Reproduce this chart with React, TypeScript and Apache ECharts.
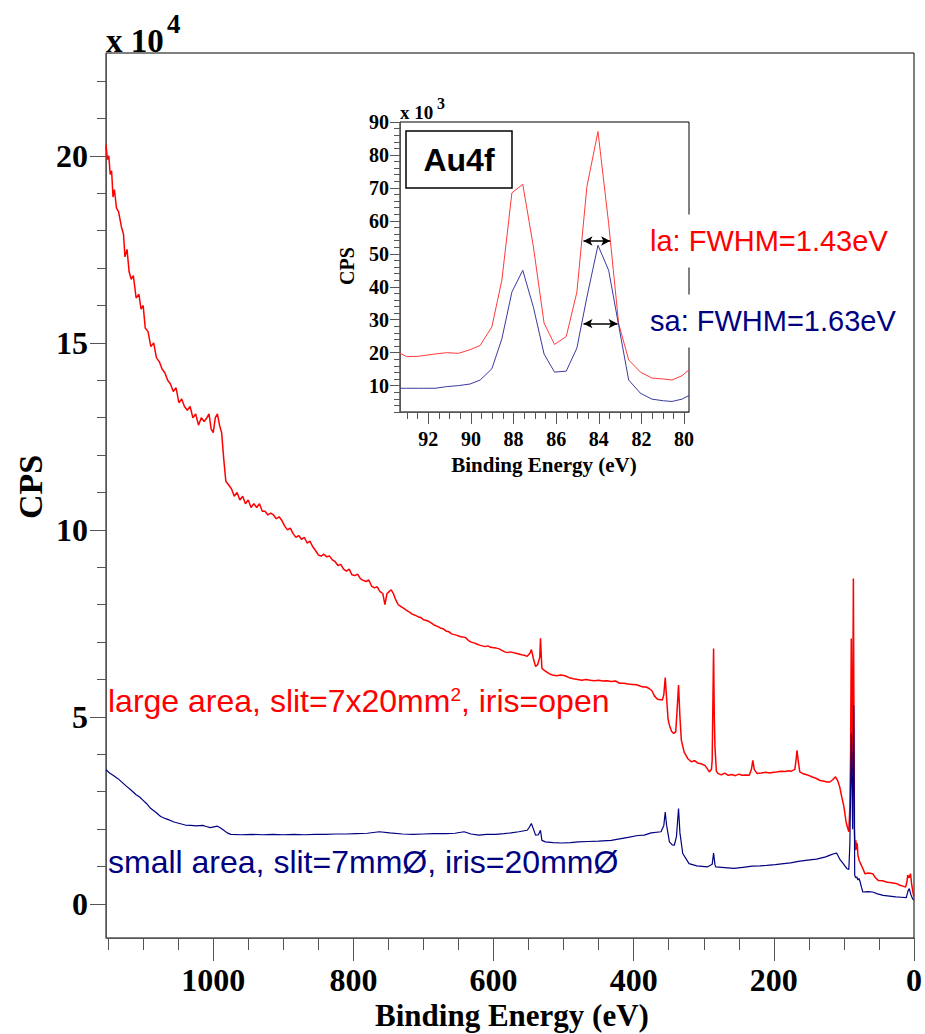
import React, { useEffect, useRef } from "react";
import * as echarts from "echarts";

// ---------- Survey spectra (binding energy eV, CPS in units of 1e4) ----------
const largeAreaSurvey: [number, number][] = [
  [1153, 20.3], [1151, 19.9], [1149, 20.0], [1147, 19.5], [1145, 19.6], [1143, 18.9], [1141, 19.1], [1138, 18.6],
  [1135, 18.5], [1131, 18.1], [1128, 17.9], [1126, 17.3], [1123, 17.5], [1120, 16.9], [1117, 16.7], [1114, 16.8],
  [1110, 16.2], [1106, 16.3], [1103, 15.9], [1100, 16.0], [1097, 15.4], [1093, 15.3], [1089, 14.9], [1085, 15.0],
  [1081, 14.6], [1077, 14.5], [1073, 14.3], [1069, 14.2], [1065, 14.0], [1061, 13.9], [1057, 13.7], [1053, 13.8],
  [1049, 13.4], [1045, 13.5], [1041, 13.3], [1037, 13.2], [1033, 13.3], [1029, 13.0], [1025, 13.1], [1021, 12.8],
  [1017, 13.0], [1013, 12.9], [1009, 13.0], [1006, 13.1], [1003, 12.7], [1000, 12.6], [997, 13.0], [994, 13.1],
  [991, 12.8], [988, 12.6], [985, 11.9], [982, 11.3], [978, 11.2], [974, 11.1], [970, 10.9], [966, 11.0],
  [962, 10.8], [958, 10.9], [954, 10.7], [950, 10.8], [946, 10.6], [942, 10.7], [938, 10.6], [934, 10.7],
  [930, 10.5], [926, 10.5], [922, 10.4], [918, 10.45], [914, 10.4], [910, 10.3], [906, 10.35], [902, 10.25],
  [898, 10.1], [894, 10.0], [890, 10.05], [886, 9.9], [882, 9.8], [878, 9.85], [874, 9.75], [870, 9.8],
  [866, 9.65], [862, 9.7], [858, 9.55], [854, 9.45], [850, 9.33], [846, 9.3], [842, 9.35], [838, 9.28],
  [834, 9.3], [830, 9.2], [826, 9.15], [822, 9.05], [818, 9.08], [814, 8.95], [810, 8.9], [806, 8.95],
  [802, 8.8], [798, 8.78], [794, 8.82], [790, 8.7], [786, 8.65], [782, 8.62], [778, 8.66], [774, 8.5],
  [770, 8.45], [766, 8.48], [762, 8.35], [758, 8.3], [755, 8.0], [752, 8.3], [749, 8.35], [746, 8.4],
  [743, 8.3], [740, 8.15], [736, 8.0], [732, 7.95], [728, 7.9], [724, 7.85], [720, 7.8], [716, 7.75],
  [712, 7.72], [708, 7.68], [704, 7.66], [700, 7.6], [696, 7.58], [692, 7.55], [688, 7.5], [684, 7.45],
  [680, 7.42], [676, 7.38], [672, 7.36], [668, 7.3], [664, 7.28], [660, 7.22], [656, 7.2], [652, 7.18],
  [648, 7.15], [644, 7.14], [640, 7.12], [636, 7.05], [632, 7.0], [628, 6.98], [624, 6.95], [620, 6.92],
  [616, 6.9], [612, 6.88], [608, 6.9], [604, 6.86], [600, 6.85], [596, 6.84], [592, 6.82], [588, 6.78],
  [584, 6.74], [580, 6.72], [576, 6.74], [572, 6.72], [568, 6.7], [564, 6.68], [560, 6.66], [556, 6.65],
  [552, 6.62], [548, 6.7], [546, 6.8], [543, 6.55], [540, 6.35], [537, 6.4], [534, 6.6], [533, 7.1],
  [531, 6.3], [528, 6.25], [524, 6.2], [520, 6.15], [516, 6.12], [510, 6.1], [504, 6.12], [498, 6.1],
  [492, 6.05], [486, 6.02], [480, 6.0], [474, 5.98], [468, 6.0], [462, 5.98], [456, 5.97], [450, 5.98],
  [444, 5.96], [438, 5.97], [432, 5.95], [426, 5.96], [420, 5.9], [414, 5.9], [408, 5.88], [402, 5.87],
  [396, 5.86], [390, 5.82], [386, 5.8], [382, 5.8], [378, 5.76], [374, 5.7], [370, 5.55], [366, 5.47],
  [362, 5.46], [359, 5.45], [357, 5.6], [355, 6.05], [353, 5.5], [351, 4.95], [349, 4.78], [346, 4.62],
  [343, 4.56], [340, 4.6], [338, 5.2], [336, 5.85], [334, 5.0], [332, 4.38], [328, 4.06], [323, 3.89],
  [318, 3.8], [313, 3.83], [309, 3.77], [304, 3.75], [298, 3.7], [292, 3.53], [289, 3.6], [288, 3.84],
  [286, 6.83], [285, 5.0], [284, 4.2], [282, 3.55], [280, 3.49], [275, 3.45], [270, 3.5], [265, 3.44],
  [260, 3.46], [255, 3.43], [250, 3.47], [245, 3.44], [240, 3.45], [235, 3.44], [232, 3.6], [230, 3.84],
  [228, 3.6], [224, 3.49], [218, 3.5], [212, 3.52], [206, 3.5], [200, 3.52], [196, 3.53], [190, 3.55],
  [184, 3.54], [179, 3.56], [175, 3.55], [170, 3.6], [168, 3.9], [167, 4.11], [165, 3.8], [163, 3.53],
  [158, 3.48], [152, 3.45], [146, 3.4], [140, 3.36], [134, 3.3], [128, 3.28], [124, 3.26], [120, 3.26],
  [116, 3.32], [112, 3.4], [109, 3.3], [106, 3.13], [103, 2.85], [100, 2.6], [97, 2.2], [95, 2.05],
  [93, 1.93], [91.5, 2.6], [90.5, 4.0], [89.5, 7.1], [88.8, 4.2], [88, 3.5], [87.2, 6.0], [86.5, 8.7],
  [85.8, 5.5], [85, 2.0], [84, 1.44], [83, 1.7], [82, 1.45], [81, 1.62], [80, 1.3], [78, 1.15],
  [75, 1.03], [72, 0.9], [70, 0.81], [65, 0.83], [59, 0.81], [55, 0.7], [51, 0.63], [45, 0.62],
  [38, 0.58], [32, 0.57], [25.5, 0.55], [20, 0.5], [15, 0.47], [12, 0.45], [10, 0.6], [9, 0.77],
  [7, 0.7], [5, 0.81], [3.5, 0.55], [2, 0.37], [0.2, 0.2],
];

const smallAreaSurvey: [number, number][] = [
  [1153, 3.59], [1148, 3.5], [1143, 3.44], [1136, 3.35], [1130, 3.25], [1124, 3.15], [1117, 3.04], [1110, 2.92],
  [1105, 2.86], [1100, 2.77], [1095, 2.68], [1089, 2.55], [1082, 2.45], [1075, 2.34], [1068, 2.28], [1062, 2.24],
  [1056, 2.19], [1048, 2.15], [1040, 2.11], [1032, 2.1], [1024, 2.09], [1015, 2.1], [1010, 2.07], [1004, 2.04],
  [999, 2.06], [994, 2.08], [990, 2.04], [985, 1.97], [980, 1.9], [975, 1.86], [960, 1.85], [945, 1.86],
  [930, 1.85], [915, 1.86], [900, 1.85], [885, 1.86], [870, 1.85], [855, 1.86], [840, 1.86], [825, 1.87],
  [810, 1.87], [796, 1.88], [780, 1.89], [763, 1.93], [748, 1.9], [730, 1.87], [715, 1.86], [700, 1.87],
  [685, 1.88], [668, 1.88], [655, 1.89], [642, 1.93], [632, 1.87], [621, 1.84], [610, 1.86], [597, 1.86],
  [585, 1.88], [575, 1.9], [564, 1.93], [552, 1.97], [549, 2.05], [546, 2.15], [543, 2.0], [540, 1.84],
  [536, 1.85], [533, 1.97], [531, 1.7], [526, 1.66], [515, 1.64], [503, 1.63], [490, 1.64], [479, 1.66],
  [465, 1.67], [450, 1.68], [432, 1.7], [420, 1.74], [408, 1.78], [394, 1.83], [385, 1.84], [375, 1.9],
  [361, 1.93], [357, 2.1], [355, 2.46], [353, 2.1], [349, 1.66], [345, 1.58], [342, 1.57], [339, 1.8],
  [336, 2.55], [334, 1.9], [330, 1.35], [325, 1.2], [321, 1.08], [310, 1.02], [295, 0.99], [288, 1.06],
  [286, 1.36], [284, 1.05], [283, 0.99], [270, 0.97], [257, 0.95], [244, 0.98], [231, 1.01], [220, 1.02],
  [210, 1.03], [198, 1.05], [186, 1.08], [176, 1.1], [165, 1.14], [152, 1.17], [139, 1.2], [126, 1.26],
  [118, 1.32], [113, 1.35], [110.5, 1.36], [106, 1.2], [101, 1.08], [96, 0.95], [93, 0.92], [91.5, 1.6],
  [90.5, 3.0], [89.3, 4.56], [88.5, 3.2], [87.5, 2.0], [86.8, 3.6], [86, 5.31], [85.3, 3.0], [84.6, 0.77],
  [83, 0.7], [81.5, 0.72], [80, 0.64], [78.5, 0.68], [77, 0.6], [75, 0.45], [73, 0.32], [66, 0.33],
  [59, 0.32], [52, 0.27], [44, 0.23], [35, 0.21], [26, 0.19], [18, 0.18], [11, 0.17], [8.5, 0.35],
  [6.7, 0.41], [4.5, 0.25], [2, 0.14], [0.4, 0.1],
];

// ---------- Au4f inset (binding energy eV, CPS in units of 1e3) ----------
const insetEnergy = [93.33, 93.02, 92.47, 91.69, 91.14, 90.59, 90.04, 89.57, 89.02, 88.55, 88.08, 87.57, 87.07, 86.57,
  86.08, 85.53, 85.03, 84.56, 84.04, 83.54, 83.07, 82.6, 82.05, 81.51, 80.96, 80.57, 80.1, 79.77];
const insetLarge = [19.84, 18.8, 18.9, 19.6, 20.0, 19.8, 20.9, 22.2, 27.8, 42.0, 68.5, 71.1, 52.1, 29.0,
  22.5, 24.9, 38.4, 70.4, 87.1, 59.2, 28.8, 17.8, 14.1, 12.3, 12.0, 11.7, 13.0, 14.8];
const insetSmall = [9.2, 9.2, 9.2, 9.2, 9.7, 10.0, 10.5, 11.7, 15.1, 24.2, 38.4, 45.0, 33.8, 19.6,
  14.1, 14.4, 21.4, 36.9, 52.6, 45.0, 28.3, 11.7, 7.7, 5.9, 5.4, 5.2, 5.9, 7.0];
// FWHM arrows: [from eV, to eV, height]
const fwhmLarge = [84.72, 83.47, 53.9];
const fwhmSmall = [84.72, 83.12, 28.8];

// ---------- Tick values ----------
const mainXMajor = [0, 200, 400, 600, 800, 1000];
const mainXMinor = [0, 50, 100, 150, 200, 250, 300, 350, 400, 450, 500, 550, 600, 650, 700, 750, 800, 850, 900, 950, 1000, 1050, 1100, 1150];
const mainYMajor = [0, 5, 10, 15, 20];
const mainYMinor = [0, 1, 2, 3, 4, 5, 6, 7, 8, 9, 10, 11, 12, 13, 14, 15, 16, 17, 18, 19, 20, 21, 22];
const insetXMajor = [80, 82, 84, 86, 88, 90, 92];
const insetXMinor = [80, 80.5, 81, 81.5, 82, 82.5, 83, 83.5, 84, 84.5, 85, 85.5, 86, 86.5, 87, 87.5, 88, 88.5, 89, 89.5, 90, 90.5, 91, 91.5, 92, 92.5, 93];
const insetYMajor = [10, 20, 30, 40, 50, 60, 70, 80, 90];
const insetYMinor = [2, 4, 6, 8, 10, 12, 14, 16, 18, 20, 22, 24, 26, 28, 30, 32, 34, 36, 38, 40, 42, 44, 46, 48, 50, 52, 54, 56, 58, 60, 62, 64, 66, 68, 70, 72, 74, 76, 78, 80, 82, 84, 86, 88, 90];

const SERIF = "'Liberation Serif', 'Times New Roman', serif";
const SANS = "'Liberation Sans', Arial, sans-serif";
const AXIS_GRAY = "#555";
const RED = "#ff0000";
const NAVY = "#000080";

function App() {
  const ref = useRef<HTMLDivElement>(null);

  useEffect(() => {
    document.body.style.margin = "0";
    const chart = echarts.init(ref.current!, null, { renderer: "svg" });

    const axisLine = { show: true, onZero: false, lineStyle: { color: AXIS_GRAY, width: 1 } };
    const hiddenLine = { show: false, onZero: false };
    const noSplit = { show: false };
    const plain = (v: number) => String(v);

    const option: any = {
      animation: false,
      backgroundColor: "#fff",
      grid: [
        { left: 106, top: 53, width: 812, height: 885, show: true, borderColor: "#000", borderWidth: 1, backgroundColor: "transparent" },
        { left: 400, top: 122, width: 289, height: 290, show: true, borderColor: "#000", borderWidth: 1, backgroundColor: "#fff" },
      ],
      xAxis: [
        {
          gridIndex: 0, type: "value", min: 0, max: 1153, inverse: true, position: "bottom",
          axisLine, splitLine: noSplit,
          axisTick: { show: true, inside: false, length: 12, customValues: mainXMinor, lineStyle: { color: AXIS_GRAY } },
          axisLabel: { show: false },
        },
        {
          gridIndex: 0, type: "value", min: 0, max: 1153, inverse: true, position: "bottom",
          axisLine: hiddenLine, splitLine: noSplit,
          axisTick: { show: true, length: 23, customValues: mainXMajor, lineStyle: { color: AXIS_GRAY } },
          axisLabel: {
            show: true, customValues: mainXMajor, margin: 26, color: "#000", formatter: plain,
            fontFamily: SERIF, fontWeight: "bold", fontSize: 32,
          },
        },
        {
          gridIndex: 1, type: "value", min: 79.77, max: 93.33, inverse: true, position: "bottom",
          axisLine, splitLine: noSplit,
          axisTick: { show: true, length: 7, customValues: insetXMinor, lineStyle: { color: AXIS_GRAY } },
          axisLabel: { show: false },
        },
        {
          gridIndex: 1, type: "value", min: 79.77, max: 93.33, inverse: true, position: "bottom",
          axisLine: hiddenLine, splitLine: noSplit,
          axisTick: { show: true, length: 12, customValues: insetXMajor, lineStyle: { color: AXIS_GRAY } },
          axisLabel: {
            show: true, customValues: insetXMajor, margin: 17, color: "#000", formatter: plain,
            fontFamily: SERIF, fontWeight: "bold", fontSize: 20,
          },
        },
      ],
      yAxis: [
        {
          gridIndex: 0, type: "value", min: -0.91, max: 22.75, position: "left",
          axisLine, splitLine: noSplit,
          axisTick: { show: true, length: 9, customValues: mainYMinor, lineStyle: { color: AXIS_GRAY } },
          axisLabel: { show: false },
        },
        {
          gridIndex: 0, type: "value", min: -0.91, max: 22.75, position: "left",
          axisLine: hiddenLine, splitLine: noSplit,
          axisTick: { show: true, length: 16, customValues: mainYMajor, lineStyle: { color: AXIS_GRAY } },
          axisLabel: {
            show: true, customValues: mainYMajor, margin: 18, color: "#000", formatter: plain,
            fontFamily: SERIF, fontWeight: "bold", fontSize: 32,
          },
        },
        {
          gridIndex: 1, type: "value", min: 2, max: 90, position: "left",
          axisLine, splitLine: noSplit,
          axisTick: { show: true, length: 6, customValues: insetYMinor, lineStyle: { color: AXIS_GRAY } },
          axisLabel: { show: false },
        },
        {
          gridIndex: 1, type: "value", min: 2, max: 90, position: "left",
          axisLine: hiddenLine, splitLine: noSplit,
          axisTick: { show: true, length: 10, customValues: insetYMajor, lineStyle: { color: AXIS_GRAY } },
          axisLabel: {
            show: true, customValues: insetYMajor, margin: 11, color: "#000", formatter: plain,
            fontFamily: SERIF, fontWeight: "bold", fontSize: 20,
          },
        },
      ],
      series: [
        {
          name: "large area", type: "line", xAxisIndex: 0, yAxisIndex: 0, data: largeAreaSurvey,
          showSymbol: false, symbol: "none", lineStyle: { color: RED, width: 1.5 }, z: 3,
        },
        {
          name: "small area", type: "line", xAxisIndex: 0, yAxisIndex: 0, data: smallAreaSurvey,
          showSymbol: false, symbol: "none", lineStyle: { color: NAVY, width: 1.2 }, z: 3,
        },
        {
          name: "la Au4f", type: "line", xAxisIndex: 2, yAxisIndex: 2,
          data: insetEnergy.map((e, i) => [e, insetLarge[i]]),
          showSymbol: false, symbol: "none", lineStyle: { color: "#ff3a3a", width: 1 }, z: 3,
          markLine: {
            silent: true, symbol: ["arrow", "arrow"], symbolSize: [7, 9],
            lineStyle: { color: "#000", width: 1.5, type: "solid" }, label: { show: false },
            data: [[{ coord: [fwhmLarge[0], fwhmLarge[2]] }, { coord: [fwhmLarge[1], fwhmLarge[2]] }]],
          },
        },
        {
          name: "sa Au4f", type: "line", xAxisIndex: 2, yAxisIndex: 2,
          data: insetEnergy.map((e, i) => [e, insetSmall[i]]),
          showSymbol: false, symbol: "none", lineStyle: { color: "#3a3a9e", width: 1 }, z: 3,
          markLine: {
            silent: true, symbol: ["arrow", "arrow"], symbolSize: [7, 9],
            lineStyle: { color: "#000", width: 1.5, type: "solid" }, label: { show: false },
            data: [[{ coord: [fwhmSmall[0], fwhmSmall[2]] }, { coord: [fwhmSmall[1], fwhmSmall[2]] }]],
          },
        },
      ],
      graphic: [
        // main multiplier
        { type: "text", z: 10, style: { text: "x 10", x: 106, y: 41, verticalAlign: "middle", fill: "#000", font: `bold 33px ${SERIF}` } },
        { type: "text", z: 10, style: { text: "4", x: 167, y: 24, verticalAlign: "middle", fill: "#000", font: `bold 27px ${SERIF}` } },
        // main axis titles
        { type: "text", z: 10, x: 30, y: 487, rotation: Math.PI / 2, style: { text: "CPS", x: 0, y: 0, align: "center", verticalAlign: "middle", fill: "#000", font: `bold 34px ${SERIF}` } },
        { type: "text", z: 10, style: { text: "Binding Energy (eV)", x: 512, y: 1015, align: "center", verticalAlign: "middle", fill: "#000", font: `bold 31px ${SERIF}` } },
        // series annotations
        {
          type: "text", z: 10,
          style: {
            x: 108, y: 701, verticalAlign: "middle",
            text: "{a|large area, slit=7x20mm}{s|2}{a|, iris=open}",
            rich: {
              a: { fill: RED, fontSize: 32, fontFamily: SANS },
              s: { fill: RED, fontSize: 19, fontFamily: SANS, verticalAlign: "top", padding: [0, 0, 14, 0] },
            },
          },
        },
        { type: "text", z: 10, style: { text: "small area, slit=7mmØ, iris=20mmØ", x: 108, y: 862, verticalAlign: "middle", fill: NAVY, font: `32px ${SANS}` } },
        // inset annotations
        { type: "rect", z: 10, shape: { x: 406, y: 131, width: 106, height: 57 }, style: { fill: "#fff", stroke: "#000", lineWidth: 1.5 } },
        { type: "text", z: 11, style: { text: "Au4f", x: 459, y: 160, align: "center", verticalAlign: "middle", fill: "#000", font: `bold 32px ${SANS}` } },
        { type: "text", z: 10, style: { text: "x 10", x: 400, y: 112, verticalAlign: "middle", fill: "#000", font: `bold 19px ${SERIF}` } },
        { type: "text", z: 10, style: { text: "3", x: 437, y: 103, verticalAlign: "middle", fill: "#000", font: `bold 16px ${SERIF}` } },
        { type: "text", z: 10, x: 347, y: 266, rotation: Math.PI / 2, style: { text: "CPS", x: 0, y: 0, align: "center", verticalAlign: "middle", fill: "#000", font: `bold 20px ${SERIF}` } },
        { type: "text", z: 10, style: { text: "Binding Energy (eV)", x: 544, y: 465, align: "center", verticalAlign: "middle", fill: "#000", font: `bold 21px ${SERIF}` } },
        { type: "text", z: 12, style: { text: "la: FWHM=1.43eV", x: 648, y: 241, verticalAlign: "middle", fill: RED, font: `29px ${SANS}`, backgroundColor: "#fff", padding: [12, 2] } },
        { type: "text", z: 12, style: { text: "sa: FWHM=1.63eV", x: 648, y: 321, verticalAlign: "middle", fill: NAVY, font: `29px ${SANS}`, backgroundColor: "#fff", padding: [12, 2] } },
      ],
    };

    chart.setOption(option);
    return () => chart.dispose();
  }, []);

  return <div ref={ref} style={{ width: 925, height: 1034 }} />;
}

export default App;
